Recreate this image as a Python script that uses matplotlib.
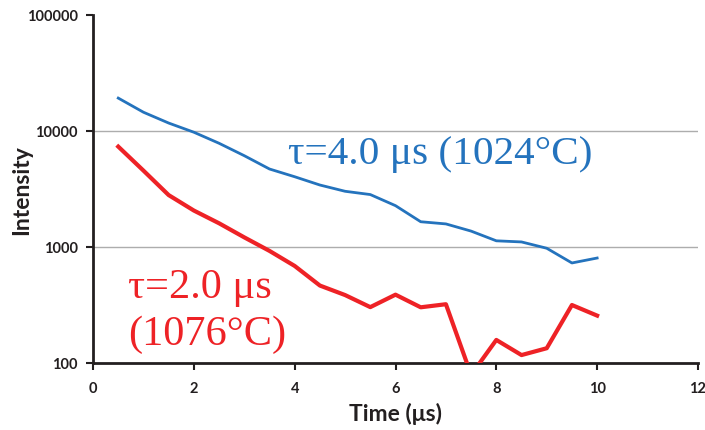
import numpy as np
import matplotlib.pyplot as plt
from matplotlib.ticker import FixedLocator, FixedFormatter, NullLocator

# time points (us)
time = [0.5, 1.0, 1.5, 2.0, 2.5, 3.0, 3.5, 4.0, 4.5, 5.0,
        5.5, 6.0, 6.5, 7.0, 7.5, 8.0, 8.5, 9.0, 9.5, 10.0]

# 1024 C, tau = 4.0 us
blue_vals = [19200, 14500, 11700, 9750, 7830, 6120, 4700, 4030, 3420, 3020,
             2830, 2270, 1650, 1580, 1370, 1130, 1105, 975, 728, 803]

# 1076 C, tau = 2.0 us
red_vals = [7330, 4550, 2800, 2060, 1600, 1210, 925, 686, 465, 385,
            303, 388, 302, 321, 79, 158, 117, 134, 316, 256]

y_ticks = [100, 1000, 10000, 100000]
y_labels = ['100', '1000', '10000', '100000']
x_ticks = [0, 2, 4, 6, 8, 10, 12]

blue = '#2473BD'
red = '#EE2226'

fig = plt.figure(figsize=(7.05, 4.31), dpi=100)
ax = fig.add_axes([0.132, 0.1555, 0.858, 0.8075])

ax.plot(time, blue_vals, color=blue, lw=2.0, zorder=3)
ax.plot(time, red_vals, color=red, lw=3.0, zorder=3)

ax.set_yscale('log')
ax.set_ylim(100, 100000)
ax.set_xlim(0, 12)
ax.yaxis.set_major_locator(FixedLocator(y_ticks))
ax.yaxis.set_major_formatter(FixedFormatter(y_labels))
ax.yaxis.set_minor_locator(NullLocator())
ax.set_xticks(x_ticks)

for v in y_ticks[1:-1]:
    ax.axhline(v, color='#ADADAD', lw=1.0, zorder=1)

for s in ['top', 'right']:
    ax.spines[s].set_visible(False)
for s in ['left', 'bottom']:
    ax.spines[s].set_linewidth(2.0)
    ax.spines[s].set_color('#231F20')

ax.tick_params(axis='both', direction='out', length=5, width=1.5,
               color='#231F20', labelsize=10.5, pad=6)
ax.tick_params(axis='x', pad=8)
for lab in ax.get_xticklabels() + ax.get_yticklabels():
    lab.set_fontweight('bold')
    lab.set_family('Lato')
    lab.set_color('#231F20')

ax.set_xlabel('Time (μs)', fontsize=16.5, fontweight='bold', family='Lato',
              color='#231F20', labelpad=5)
ax.set_ylabel('Intensity', fontsize=16.5, fontweight='bold', family='Lato',
              color='#231F20', labelpad=-4)

ax.text(3.87, 5300, 'τ=4.0 μs (1024°C)', color=blue, fontsize=29.7,
        family='Liberation Serif', ha='left', va='baseline')
ax.text(0.69, 371, 'τ=2.0 μs', color=red, fontsize=30.5,
        family='Liberation Serif', ha='left', va='baseline')
ax.text(0.69, 146, '(1076°C)', color=red, fontsize=30.5,
        family='Liberation Serif', ha='left', va='baseline')

fig.savefig('out.png', dpi=100)
